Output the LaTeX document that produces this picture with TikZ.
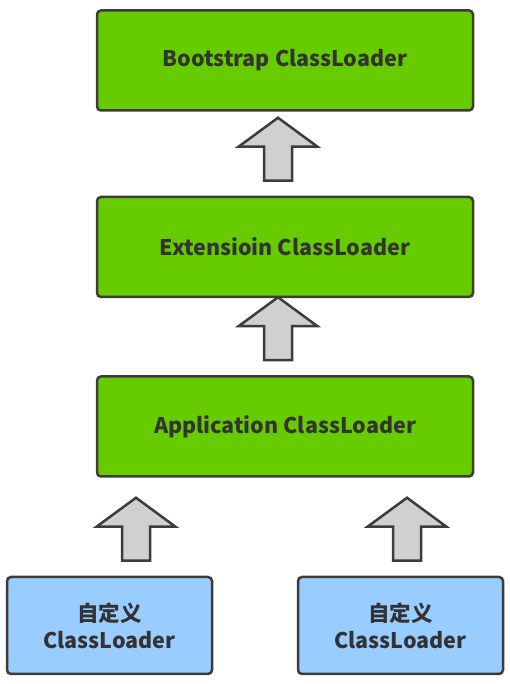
\documentclass[tikz,border=0pt]{standalone}
\usepackage{fontspec}
\setmainfont{Noto Sans CJK SC}
\usetikzlibrary{positioning,calc}
\definecolor{loadergreen}{HTML}{66CC00}
\definecolor{custblue}{HTML}{99CCFF}
\definecolor{edgegray}{HTML}{3C3C3C}
\definecolor{textgray}{HTML}{333333}
\definecolor{arrowgray}{HTML}{D0D0D0}
% hollow up-arrow between two loaders (from, to, xshift)
\newcommand\uploader[3]{%
  \draw[blockarrow] let \p1=($(#1)+(#3,15)$), \p2=(#2) in
    (\x1-14pt,\y1) -- (\x1+14pt,\y1) -- (\x1+14pt,\y1+34pt) -- (\x1+39.5pt,\y1+34pt)
    -- (\x1,\y1+63pt) -- (\x1-39.5pt,\y1+34pt) -- (\x1-14pt,\y1+34pt) -- cycle;}

\begin{document}
\begin{tikzpicture}[x=1pt, y=1pt, font=\bfseries\fontsize{21.5}{27}\selectfont,
every node/.style={draw=edgegray, line width=2.5pt, rounded corners=4pt, text=textgray, align=center},
loader/.style={fill=loadergreen, minimum width=376pt, minimum height=100pt},
custom/.style={fill=custblue, minimum width=205pt, minimum height=97pt},
blockarrow/.style={draw=edgegray, fill=arrowgray, line width=2.5pt, line join=miter}]
\useasboundingbox (0,0) rectangle (510,684);
\node[loader] (boot) at (285,623.5) {Bootstrap ClassLoader};
\node[loader, below=84pt of boot] (ext) {Extensioin ClassLoader};
\node[loader, below=77pt of ext] (app) {Application ClassLoader};
\node[custom] (cust1) at (109.5,58.5) {自定义\\ClassLoader};
\node[custom] (cust2) at (400.5,58.5) {自定义\\ClassLoader};
\uploader{ext.north}{boot.south}{-7}
\uploader{app.north}{ext.south}{-7}
\uploader{cust1.north}{app.south}{26.5}
\uploader{cust2.north}{app.south}{6.5}
\end{tikzpicture}
\end{document}
